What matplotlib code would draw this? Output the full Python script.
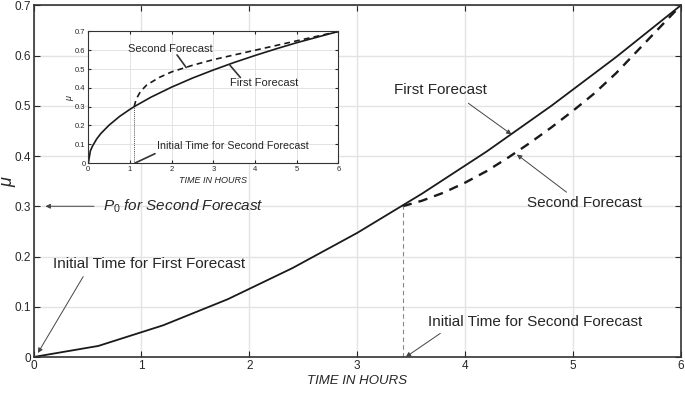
import matplotlib.pyplot as plt

plt.rcParams["font.family"] = ["Liberation Sans", "DejaVu Sans"]
plt.rcParams["mathtext.fontset"] = "custom"
plt.rcParams["mathtext.it"] = "Liberation Sans:italic"
plt.rcParams["mathtext.rm"] = "Liberation Sans"

# main chart: first and second forecast (hours, mu)
first_t = [0, 0.6, 1.2, 1.8, 2.4, 3.0, 3.6, 4.2, 4.8, 5.4, 6.0]
first_mu = [0, 0.022, 0.063, 0.115, 0.177, 0.247, 0.325, 0.409, 0.500, 0.597, 0.700]

second_t = [3.42, 3.6, 3.8, 4.0, 4.2, 4.4, 4.6, 4.8, 5.0, 5.2, 5.4, 5.6, 5.8, 6.0]
second_mu = [0.300, 0.311, 0.327, 0.347, 0.370, 0.397, 0.426, 0.457, 0.490,
             0.525, 0.565, 0.610, 0.655, 0.700]

start_t2 = 3.42
start_mu2 = 0.30

# inset chart
inset_first_t = [0, 0.05, 0.1, 0.2, 0.3, 0.5, 0.75, 1.0, 1.1, 1.5, 2.0, 2.5,
                 3.0, 3.5, 4.0, 4.5, 5.0, 5.5, 6.0]
inset_first_mu = [0, 0.065, 0.09, 0.128, 0.157, 0.202, 0.248, 0.286, 0.300,
                  0.350, 0.404, 0.452, 0.495, 0.535, 0.572, 0.607, 0.640,
                  0.670, 0.700]

inset_second_t = [1.1, 1.15, 1.25, 1.4, 1.7, 2.0, 2.5, 3.0, 3.5, 4.0, 4.5,
                  5.0, 5.5, 6.0]
inset_second_mu = [0.300, 0.340, 0.380, 0.415, 0.455, 0.485, 0.520, 0.550,
                   0.575, 0.600, 0.625, 0.650, 0.675, 0.700]

inset_start_t2 = 1.1

xticks = [0, 1, 2, 3, 4, 5, 6]
yticks = [0, 0.1, 0.2, 0.3, 0.4, 0.5, 0.6, 0.7]

TXT = "#262626"
GRID = "#e3e3e3"
ARROW = dict(arrowstyle="-|>", lw=0.7, color="#444444", mutation_scale=7,
             shrinkA=0, shrinkB=0)
LINE = dict(arrowstyle="-", lw=1.2, color="#333333", shrinkA=0, shrinkB=0)


def style_axes(ax, size, glw):
    ax.set_xlim(0, 6)
    ax.set_ylim(0, 0.7)
    ax.set_xticks(xticks)
    ax.set_yticks(yticks)
    ax.set_yticklabels([f"{v:g}" for v in yticks])
    ax.tick_params(direction="in", top=True, right=True, labelsize=size,
                   colors=TXT, length=4 if size > 7 else 2, width=0.8,
                   pad=2)
    ax.grid(True, color=GRID, lw=glw)
    ax.set_axisbelow(True)
    for s in ax.spines.values():
        s.set_color("#333333")
        s.set_linewidth(1.2 if size > 7 else 0.8)


fig = plt.figure(figsize=(6.85, 3.93), dpi=100)
ax = fig.add_axes([0.049, 0.0916, 0.945, 0.895])
style_axes(ax, 8.5, 1.0)

ax.plot(first_t, first_mu, color="#1a1a1a", lw=1.3)
ax.plot(second_t, second_mu, color="#1a1a1a", lw=1.7, ls=(0, (4, 3)))
ax.plot([start_t2, start_t2], [0, start_mu2], color="#888888", lw=0.8,
        ls=(0, (4, 3)))

ax.set_xlabel("TIME IN HOURS", fontsize=9.5, style="italic", color=TXT,
              labelpad=2)
ax.set_ylabel(r"$\mu$", fontsize=13, color=TXT)
ax.yaxis.set_label_coords(-0.024, 0.5)

ax.annotate("", xy=(0.11, 0.30), xytext=(0.56, 0.30), arrowprops=ARROW)
ax.text(0.64, 0.30, r"$P_\mathit{0}$ for Second Forecast", fontsize=11,
        style="italic", color=TXT, va="center")

ax.text(0.18, 0.185, "Initial Time for First Forecast", fontsize=11,
        color=TXT, va="center")
ax.annotate("", xy=(0.04, 0.008), xytext=(0.46, 0.16), arrowprops=ARROW)

ax.text(3.34, 0.532, "First Forecast", fontsize=11, color=TXT, va="center")
ax.annotate("", xy=(4.43, 0.443), xytext=(4.03, 0.505), arrowprops=ARROW)

ax.text(4.57, 0.306, "Second Forecast", fontsize=11, color=TXT,
        va="center")
ax.annotate("", xy=(4.48, 0.403), xytext=(4.94, 0.328), arrowprops=ARROW)

ax.text(3.66, 0.07, "Initial Time for Second Forecast", fontsize=11,
        color=TXT, va="center")
ax.annotate("", xy=(3.45, 0.0), xytext=(3.77, 0.047), arrowprops=ARROW)

# inset
ins = fig.add_axes([0.1289, 0.585, 0.365, 0.335])
ins.set_facecolor("white")
style_axes(ins, 5.5, 0.7)
ins.plot(inset_first_t, inset_first_mu, color="#1a1a1a", lw=1.2)
ins.plot(inset_second_t, inset_second_mu, color="#1a1a1a", lw=1.2,
         ls=(0, (3.5, 2.5)))
ins.plot([inset_start_t2, inset_start_t2], [0, 0.3], color="#555555",
         lw=0.7, ls=(0, (1, 1)))
ins.set_xlabel("TIME IN HOURS", fontsize=6.5, style="italic", color=TXT,
               labelpad=2)
ins.set_ylabel(r"$\mu$", fontsize=6.5, color=TXT)
ins.yaxis.set_label_coords(-0.05, 0.5)

ins.text(0.95, 0.605, "Second Forecast", fontsize=8, color=TXT,
         va="center")
ins.annotate("", xy=(2.35, 0.508), xytext=(2.13, 0.575), arrowprops=LINE)
ins.text(3.4, 0.425, "First Forecast", fontsize=8, color=TXT, va="center")
ins.annotate("", xy=(3.4, 0.52), xytext=(3.65, 0.455), arrowprops=LINE)
ins.text(1.65, 0.09, "Initial Time for Second Forecast", fontsize=7.7,
         color=TXT, va="center")
ins.annotate("", xy=(1.12, 0.0), xytext=(1.6, 0.05), arrowprops=LINE)

fig.savefig("out.png", dpi=100)
